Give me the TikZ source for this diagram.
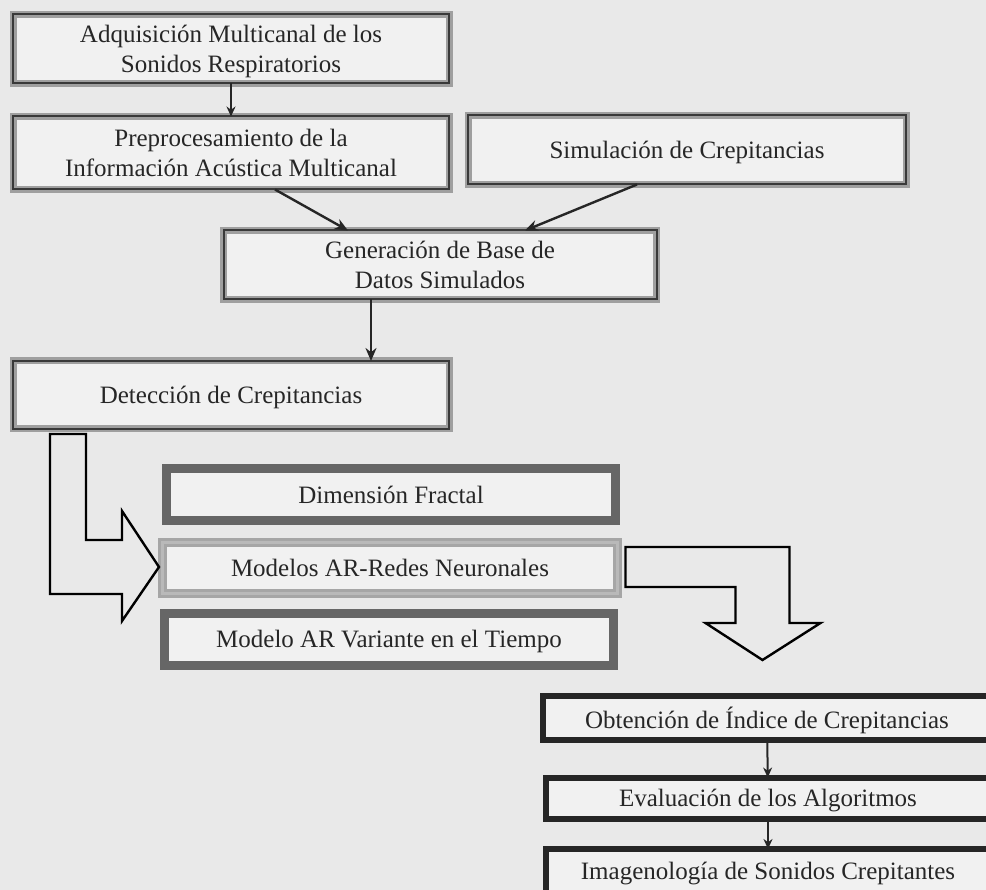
\documentclass[tikz,border=0pt]{standalone}
\usepackage{fontspec}
\setmainfont{Liberation Serif}
\usetikzlibrary{arrows.meta}
\definecolor{paper}{HTML}{E9E9E9}
\definecolor{boxfill}{HTML}{F1F1F1}
\definecolor{ink}{HTML}{262626}
\tikzset{
	every node/.append style={
		font={\fontsize{25}{30}\selectfont},
		text=ink,
	},
	basebox/.style={
		align = center,
		fill=boxfill,
		inner sep=0pt,
		outer sep=0pt,
		text depth=0pt,
	},
	greybox/.style={
		basebox,
		draw=gray!75,
		line width=2.5pt,
		double=gray!45!black,
		double distance=2pt,
	},
	darkbox/.style={
		basebox,
		draw=gray!80!black,
		line width=9pt,
	},
	lightbox/.style={
		basebox,
		draw=gray!70,
		line width=3pt,
		double=gray!55,
		double distance=3pt,
	},
	blackbox/.style={
		basebox,
		draw=black!85,
		line width=6pt,
	},
	link/.style={
		ink,
		line width=2.4pt,
		-{Stealth[length=13pt,width=11pt]},
	},
	smalllink/.style={
		ink,
		line width=2pt,
		-{Stealth[length=10pt,width=9pt]},
	},
	blockarrow/.style={
		draw=black,
		line width=2.4pt,
		line join=miter,
	},
}

\begin{document}
\begin{tikzpicture}[x=1pt,y=-1pt]

\fill[paper] (0,0) rectangle (986,890);
\useasboundingbox (0,0) rectangle (986,890);

% first stage
\node(adq)[greybox, minimum width=436pt, minimum height=69pt] at (231,49)
	{Adquisición Multicanal de los\\Sonidos Respiratorios};

\node(pre)[greybox, minimum width=436pt, minimum height=73pt] at (231,153)
	{Preprocesamiento de la\\Información Acústica Multicanal};

\node(sim)[greybox, minimum width=438pt, minimum height=69pt] at (687,150)
	{Simulación de Crepitancias};

\node(gen)[greybox, minimum width=433pt, minimum height=69pt] at (440,265)
	{Generación de Base de\\Datos Simulados};

\node(det)[greybox, minimum width=436pt, minimum height=68pt] at (231,395)
	{Detección de Crepitancias};

\draw[smalllink] (adq) -- (pre);
\draw[link] ([xshift=44pt]pre.south) -- ([xshift=-92pt]gen.north);
\draw[link] ([xshift=-50pt]sim.south) -- ([xshift=85pt]gen.north);
\draw[link] ([xshift=-69pt]gen.south) -- ([xshift=-69pt]gen.south |- det.north);

% methods
\node(dim)[darkbox, minimum width=449pt, minimum height=52pt] at (391,495)
	{Dimensión Fractal};

\node(mod)[lightbox, minimum width=455pt, minimum height=51pt] at (390,568)
	{Modelos AR-Redes Neuronales};

\node(var)[darkbox, minimum width=449pt, minimum height=52pt] at (389,639)
	{Modelo AR Variante en el Tiempo};

\draw[blockarrow] ([shift={(37,5)}]det.south west)
	-- ++(36,0) -- ++(0,106) -- ++(36,0) -- ++(0,-29)
	-- ++(37,56) -- ++(-37,54) -- ++(0,-27) -- ++(-72,0) -- cycle;

\draw[blockarrow] ([shift={(8,-21)}]mod.east)
	-- ++(164,0) -- ++(0,76) -- ++(31,0) -- ++(-58,37)
	-- ++(-57,-37) -- ++(30,0) -- ++(0,-36) -- ++(-110,0) -- cycle;

% results
\node(obt)[blackbox, minimum width=449pt, minimum height=44pt] at (767,718)
	{Obtención de Índice de Crepitancias};

\node(eva)[blackbox, minimum width=444pt, minimum height=41pt] at (768,798)
	{Evaluación de los Algoritmos};

\node(img)[blackbox, minimum width=444pt, minimum height=44pt] at (768,871)
	{Imagenología de Sonidos Crepitantes};

\draw[smalllink] (obt) -- (eva);
\draw[smalllink] (eva) -- (img);

\end{tikzpicture}
\end{document}
